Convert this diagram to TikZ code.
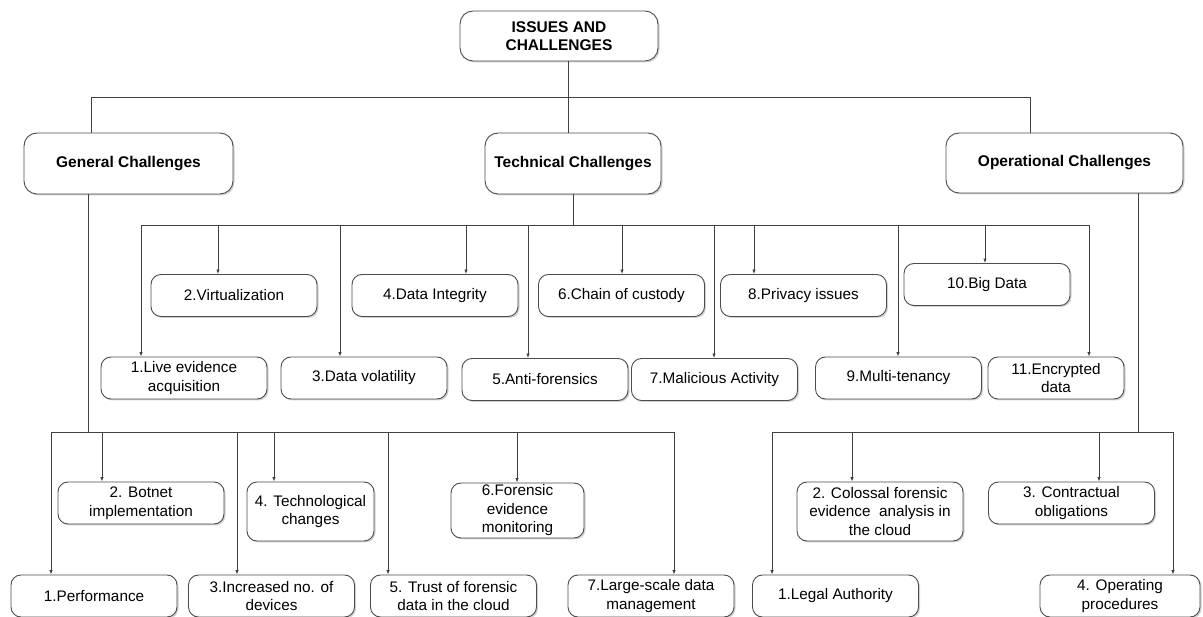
\documentclass[tikz,border=0pt]{standalone}
\usepackage{fontspec}
\setmainfont{Liberation Sans}
\usetikzlibrary{arrows.meta,shadows}

\begin{document}
\begin{tikzpicture}[x=1pt,y=-1pt,
    chal/.style={draw=black!70,line width=0.9pt,fill=white,rounded corners=13pt,align=center,
      font=\fontsize{15.5}{18.5}\selectfont\bfseries,
      drop shadow={shadow xshift=1.5pt,shadow yshift=-1.5pt,fill=black!35,opacity=0.5}},
    leaf/.style={draw=black!70,line width=0.9pt,fill=white,rounded corners=10pt,align=center,
      minimum width=166pt,minimum height=42pt,inner sep=1pt,
      font=\fontsize{15.3}{18.5}\selectfont,
      drop shadow={shadow xshift=1.5pt,shadow yshift=-1.5pt,fill=black!35,opacity=0.5}},
    link/.style={draw=black!75,line width=0.8pt},
    arr/.style={link,-{Latex[length=4.5pt,width=3.5pt]}}]
    \useasboundingbox (0,0) rectangle (1203,617);

    % top level
    \node[chal,minimum width=198pt,minimum height=50pt] (issues) at (559,36) {ISSUES AND\\CHALLENGES};
    \node[chal,minimum width=209pt,minimum height=61pt] (gen) at (128.5,163.5) {General Challenges};
    \node[chal,minimum width=176pt,minimum height=61pt] (tech) at (573,163.5) {Technical Challenges};
    \node[chal,minimum width=237pt,minimum height=60pt] (oper) at (1064.5,163) {Operational Challenges};

    \coordinate (hub) at (568,97);
    \coordinate (gtop) at (91,97);
    \coordinate (otop) at (1030,97);
    \draw[link] (issues.south -| hub) -- (hub |- tech.north);
    \draw[link] (gen.north -| gtop) -- (gtop) -- (otop) -- (oper.north -| otop);

    % technical challenges
    \node[leaf] (t1) at (184,378) {1.Live evidence\\acquisition};
    \node[leaf] (t2) at (234,295.5) {2.Virtualization};
    \node[leaf] (t3) at (364,378) {3.Data volatility};
    \node[leaf] (t4) at (435,295.5) {4.Data Integrity};
    \node[leaf] (t5) at (545,379.5) {5.Anti-forensics};
    \node[leaf] (t6) at (621.5,295.5) {6.Chain of custody};
    \node[leaf] (t7) at (714.5,379.5) {7.Malicious Activity};
    \node[leaf] (t8) at (803.5,295.5) {8.Privacy issues};
    \node[leaf] (t9) at (898.5,378) {9.Multi-tenancy};
    \node[leaf] (t10) at (987,284.5) {10.Big Data};
    \node[leaf,minimum width=136pt] (t11) at (1056,378) {11.Encrypted\\data};

    \foreach \i/\x in {1/141,2/218,3/340,4/466,5/528,6/622,7/714,8/754,9/898,10/985,11/1089}{
        \coordinate (tb\i) at (\x,225);
        \draw[arr] (tb\i) -- (tb\i |- t\i.north);
    }
    \draw[link] (tb1) -- (tb11);
    \draw[link] (tech.south) -- (tech.south |- tb1);

    % general challenges
    \node[leaf] (g1) at (94,596) {1.Performance};
    \node[leaf] (g2) at (141,503) {2. Botnet\\implementation};
    \node[leaf] (g3) at (271.5,596) {3.Increased no. of\\devices};
    \node[leaf,minimum width=127pt,minimum height=59pt] (g4) at (310.5,511.5) {4. Technological\\changes};
    \node[leaf] (g5) at (453.5,596) {5. Trust of forensic\\data in the cloud};
    \node[leaf,minimum width=133pt,minimum height=55pt] (g6) at (517.5,510.5) {6.Forensic\\evidence\\monitoring};
    \node[leaf] (g7) at (651,596) {7.Large-scale data\\management};

    \foreach \i/\x in {1/51,2/102,3/237,4/274,5/388,6/517,7/674}{
        \coordinate (gb\i) at (\x,432);
        \draw[arr] (gb\i) -- (gb\i |- g\i.north);
    }
    \coordinate (gb) at (88,432);
    \draw[link] (gb1) -- (gb7);
    \draw[link] (gen.south -| gb) -- (gb);

    % operational challenges
    \node[leaf] (o1) at (835.5,596) {1.Legal Authority};
    \node[leaf,minimum height=59pt] (o2) at (880,511.5) {2. Colossal forensic\\evidence\ \ analysis in\\the cloud};
    \node[leaf] (o3) at (1071.5,503) {3. Contractual\\obligations};
    \node[leaf,minimum width=160pt] (o4) at (1120,596) {4. Operating\\procedures};

    \foreach \i/\x in {1/772,2/852,3/1099,4/1173}{
        \coordinate (ob\i) at (\x,432);
        \draw[arr] (ob\i) -- (ob\i |- o\i.north);
    }
    \coordinate (ob) at (1138,432);
    \draw[link] (ob1) -- (ob4);
    \draw[link] (oper.south -| ob) -- (ob);
\end{tikzpicture}
\end{document}
